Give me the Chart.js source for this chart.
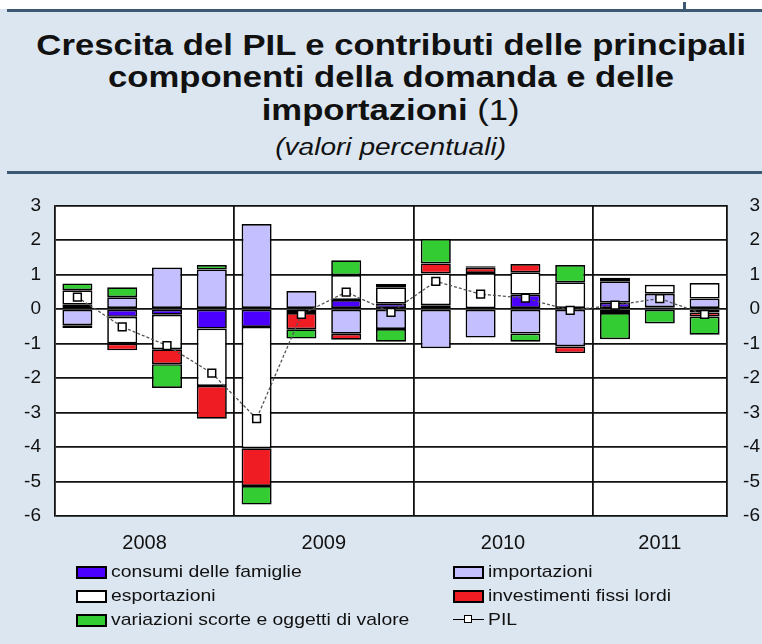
<!DOCTYPE html>
<html>
<head>
<meta charset="utf-8">
<title>Crescita del PIL</title>
<script src="https://cdn.jsdelivr.net/npm/chart.js@4.4.0/dist/chart.umd.min.js"></script>
<style>
body { margin:0; width:762px; height:644px; overflow:hidden; background:#dce6f0; position:relative;
       font-family:"Liberation Sans", Arial, sans-serif; color:#111; }
#bianco { position:absolute; left:0; top:0; width:762px; height:9px; background:#fff; }
#segno { position:absolute; left:683px; top:2px; width:3px; height:7px; background:#3d5873; }
#lineaSu { position:absolute; left:7px; top:9px; width:755px; height:3px; background:#3d5873; }
#lineaGiu { position:absolute; left:7px; top:171px; width:755px; height:3px; background:#3d5873; }
.tit { position:absolute; left:10px; width:762px; text-align:center; }
.tit span.r { display:inline-block; transform:scaleX(1.155); }
.sub span.r { transform:scaleX(1.22) !important; }
.t1 { font-size:30px; font-weight:bold; line-height:34px; }
.sub { font-size:23px; font-style:italic; line-height:26px; }
#grafico { position:absolute; left:0; top:180px; }
.voce { position:absolute; height:22px; line-height:22px; font-size:17px; white-space:nowrap; }
.voce .box { position:absolute; left:0; top:5px; width:27px; height:9px; border:2px solid #000; }
.voce .txt { position:absolute; left:35px; top:0; transform:scaleX(1.14); transform-origin:left center; }
.voce .lin { position:absolute; left:0; top:10px; width:31px; height:0; border-top:1.5px solid #000; }
.voce .q { position:absolute; left:11px; top:6px; width:6px; height:6px; border:1.5px solid #000; background:#fff; }
</style>
</head>
<body>
<div id="bianco"></div>
<div id="segno"></div>
<div id="lineaSu"></div>
<div id="lineaGiu"></div>
<div class="tit t1" style="top:28px"><span class="r">Crescita del PIL e contributi delle principali</span></div>
<div class="tit t1" style="top:60px"><span class="r">componenti della domanda e delle</span></div>
<div class="tit t1" style="top:93px"><span class="r">importazioni <span style="font-weight:normal">(1)</span></span></div>
<div class="tit sub" style="top:134px"><span class="r">(valori percentuali)</span></div>

<canvas id="grafico" width="762" height="384"></canvas>

<div id="legenda"></div>

<script>
// trimestri 2008 T1 - 2011 T3
var trimestri = ['2008 T1', '2008 T2', '2008 T3', '2008 T4',
                 '2009 T1', '2009 T2', '2009 T3', '2009 T4',
                 '2010 T1', '2010 T2', '2010 T3', '2010 T4',
                 '2011 T1', '2011 T2', '2011 T3'];
var anni = ['2008', '2009', '2010', '2011'];
var consumi      = [0.12, -0.23, -0.17, -0.57, -0.52, 0.00, 0.26, 0.15, 0.11, 0.02, 0.41, 0.00, 0.18, 0.05, -0.10];
var importazioni = [-0.47, 0.34, 1.20, 1.14, 2.46, 0.52, -0.72, -0.58, -1.14, -0.83, -0.71, -1.09, 0.62, 0.39, 0.30];
var esportazioni = [0.42, -0.77, -1.00, -1.66, -3.52, -0.12, 0.72, 0.48, 0.92, 1.02, 0.65, 0.77, 0.10, 0.26, 0.45];
var investimenti = [-0.08, -0.20, -0.43, -0.95, -1.09, -0.47, -0.17, 0.09, 0.29, 0.15, 0.24, -0.19, -0.12, 0.00, -0.12];
var variazioni   = [0.20, 0.29, -0.69, 0.13, -0.54, -0.27, 0.43, -0.37, 0.71, 0.05, -0.24, 0.50, -0.76, -0.42, -0.53];
var pil          = [0.34, -0.52, -1.06, -1.86, -3.18, -0.16, 0.49, -0.10, 0.80, 0.43, 0.31, -0.04, 0.11, 0.30, -0.16];

window.onload = function() {
    var coloreBlu = '#4b00ff';
    var coloreLilla = '#c4c0ff';
    var coloreRosso = '#f01c24';
    var coloreVerde = '#33cc33';

    function serieBarre(nome, dati, colore) {
        return {
            type: 'bar',
            label: nome,
            data: dati,
            backgroundColor: colore,
            borderColor: '#000',
            borderWidth: 1.7,
            borderSkipped: false,
            barPercentage: 0.67,
            categoryPercentage: 1,
            order: 1
        };
    }

    // posizioni degli anni e dei separatori sull'asse lineare
    var tickAnni = {1.5: anni[0], 5.5: anni[1], 9.5: anni[2], 13: anni[3]};
    var separatori = [3.5, 7.5, 11.5];

    var sfondoBianco = {
        id: 'sfondoBianco',
        beforeDraw: function(chart) {
            var a = chart.chartArea;
            var ctx = chart.ctx;
            ctx.save();
            ctx.fillStyle = '#fff';
            ctx.fillRect(a.left, a.top, a.right - a.left, a.bottom - a.top);
            ctx.restore();
        }
    };

    var ctx = document.getElementById('grafico').getContext('2d');
    var myChart = new Chart(ctx, {
        data: {
            labels: trimestri,
            datasets: [
                serieBarre('consumi delle famiglie', consumi, coloreBlu),
                serieBarre('importazioni', importazioni, coloreLilla),
                serieBarre('esportazioni', esportazioni, '#fff'),
                serieBarre('investimenti fissi lordi', investimenti, coloreRosso),
                serieBarre('variazioni scorte e oggetti di valore', variazioni, coloreVerde),
                {
                    type: 'line',
                    label: 'PIL',
                    data: pil,
                    stack: 'pil',
                    borderColor: '#555',
                    borderWidth: 1.3,
                    borderDash: [3, 2],
                    pointStyle: 'rect',
                    pointRadius: 5.5,
                    pointBackgroundColor: '#fff',
                    pointBorderColor: '#000',
                    pointBorderWidth: 1.5,
                    tension: 0,
                    order: 0
                }
            ]
        },
        options: {
            responsive: false,
            animation: false,
            devicePixelRatio: 1,
            layout: { padding: { top: 22, left: 0, right: 2, bottom: 0 } },
            plugins: {
                legend: { display: false },
                tooltip: { enabled: false }
            },
            scales: {
                x: {
                    type: 'category',
                    stacked: true,
                    display: false,
                    offset: true
                },
                xa: {
                    type: 'linear',
                    position: 'bottom',
                    min: -0.5,
                    max: 14.5,
                    afterBuildTicks: function(scale) {
                        var v = [-0.5, 1.5, 3.5, 5.5, 7.5, 9.5, 11.5, 13, 14.5];
                        scale.ticks = v.map(function(x) { return {value: x}; });
                    },
                    afterFit: function(scale) { scale.height = 48; },
                    ticks: {
                        autoSkip: false,
                        maxRotation: 0,
                        padding: 15,
                        color: '#111',
                        font: { family: 'Liberation Sans', size: 20 },
                        callback: function(value) { return tickAnni[value] || ''; }
                    },
                    grid: {
                        drawTicks: false,
                        lineWidth: 1.8,
                        color: function(c) {
                            if (c.tick && separatori.indexOf(c.tick.value) >= 0) return '#111';
                            return 'rgba(0,0,0,0)';
                        }
                    },
                    border: { display: false }
                },
                y: {
                    stacked: true,
                    position: 'left',
                    min: -6,
                    max: 3,
                    afterFit: function(scale) { scale.width = 55; },
                    ticks: {
                        stepSize: 1,
                        padding: 14,
                        color: '#111',
                        font: { family: 'Liberation Sans', size: 19 }
                    },
                    grid: { drawTicks: false, color: '#111', lineWidth: 1.8 },
                    border: { color: '#111', width: 1.8 }
                },
                y2: {
                    position: 'right',
                    min: -6,
                    max: 3,
                    afterFit: function(scale) { scale.width = 33; },
                    ticks: {
                        stepSize: 1,
                        padding: 14,
                        crossAlign: 'far',
                        color: '#111',
                        font: { family: 'Liberation Sans', size: 19 }
                    },
                    grid: { display: false, drawTicks: false },
                    border: { color: '#111', width: 1.8 }
                }
            }
        },
        plugins: [sfondoBianco]
    });

    // legenda in due colonne
    var voci = [
        ['consumi delle famiglie', coloreBlu, 76, 561],
        ['esportazioni', '#fff', 76, 585],
        ['variazioni scorte e oggetti di valore', coloreVerde, 76, 609],
        ['importazioni', coloreLilla, 453, 561],
        ['investimenti fissi lordi', coloreRosso, 453, 585],
        ['PIL', null, 453, 609]
    ];
    var legenda = document.getElementById('legenda');
    voci.forEach(function(v) {
        var d = document.createElement('div');
        d.className = 'voce';
        d.style.left = v[2] + 'px';
        d.style.top = v[3] + 'px';
        if (v[1]) {
            d.innerHTML = '<div class="box" style="background:' + v[1] + '"></div>';
        } else {
            d.innerHTML = '<div class="lin"></div><div class="q"></div>';
        }
        var t = document.createElement('span');
        t.className = 'txt';
        t.textContent = v[0];
        d.appendChild(t);
        legenda.appendChild(d);
    });
};
</script>
</body>
</html>
